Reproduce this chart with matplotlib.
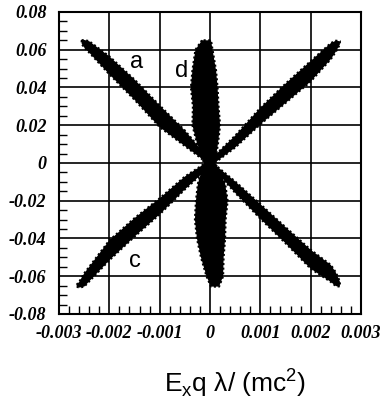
import numpy as np
import matplotlib.pyplot as plt
from matplotlib.ticker import MultipleLocator

plt.rcParams.update({
    'font.family': 'Liberation Sans',
    'mathtext.fontset': 'custom',
    'mathtext.rm': 'Liberation Sans',
})

# Branch "a": falling diagonal, upper/lower edge of the point cloud vs x
band_a_x = [-0.00255, -0.0025, -0.0024, -0.0020, -0.0015, -0.0010, -0.0005, -0.0002, 0.0,
            0.0002, 0.0005, 0.0010, 0.0015, 0.0020, 0.0024, 0.0025, 0.00258]
band_a_top = [0.0650, 0.0652, 0.0645, 0.0565, 0.0442, 0.0305, 0.0172, 0.0078, 0.0015,
              -0.0032, -0.0098, -0.0218, -0.0340, -0.0460, -0.0540, -0.0580, -0.0628]
band_a_bot = [0.0632, 0.0612, 0.0585, 0.0470, 0.0335, 0.0190, 0.0090, 0.0030, -0.0015,
              -0.0068, -0.0158, -0.0295, -0.0425, -0.0560, -0.0630, -0.0652, -0.0655]

# Branch "c": rising diagonal
band_c_x = [-0.00265, -0.0026, -0.0025, -0.0020, -0.0015, -0.0010, -0.0005, 0.0,
            0.0005, 0.0010, 0.0015, 0.0020, 0.0024, 0.0025, 0.00258]
band_c_top = [-0.0645, -0.0630, -0.0585, -0.0410, -0.0292, -0.0187, -0.0072, 0.0015,
              0.0145, 0.0292, 0.0420, 0.0540, 0.0635, 0.0648, 0.0645]
band_c_bot = [-0.0655, -0.0660, -0.0655, -0.0515, -0.0390, -0.0272, -0.0140, -0.0018,
              0.0082, 0.0205, 0.0318, 0.0432, 0.0550, 0.0590, 0.0628]

# Branch "d": nearly vertical, left/right edge vs y
band_d_y = [0.065, 0.060, 0.049, 0.040, 0.030, 0.020, 0.0106, 0.0, -0.0108,
            -0.020, -0.030, -0.040, -0.050, -0.060, -0.0655]
band_d_left = [-0.00016, -0.00029, -0.00035, -0.00038, -0.00034, -0.00035, -0.00026,
               -0.00012, -0.00024, -0.00028, -0.00030, -0.00026, -0.00018, -0.00007, 0.00002]
band_d_right = [0.00002, 0.00005, 0.00012, 0.00015, 0.00017, 0.00020, 0.00016,
                0.00010, 0.00030, 0.00035, 0.00031, 0.00030, 0.00027, 0.00026, 0.00018]

x_ticks = [-0.003, -0.002, -0.001, 0.0, 0.001, 0.002, 0.003]
x_labels = ['-0.003', '-0.002', '-0.001', '0', '0.001', '0.002', '0.003']
y_ticks = [-0.08, -0.06, -0.04, -0.02, 0.0, 0.02, 0.04, 0.06, 0.08]
y_labels = ['-0.08', '-0.06', '-0.04', '-0.02', '0', '0.02', '0.04', '0.06', '0.08']

branch_labels = ['a', 'd', 'c']
branch_label_pos = [(-0.00145, 0.0535), (-0.00056, 0.0488), (-0.00149, -0.0518)]

fig = plt.figure(figsize=(3.82, 4.05), dpi=100)
ax = fig.add_axes([0.1545, 0.2247, 0.7906, 0.7457])


def draw_band(ax, xs, ys):
    # solid core plus a dotted rim so the edge looks like loose points
    ax.fill(xs, ys, color='black', lw=0, zorder=3)
    ax.plot(np.append(xs, xs[0]), np.append(ys, ys[0]), color='black',
            lw=1.5, ls=(0, (1, 1.2)), zorder=3)


def fill_xband(ax, x, top, bot):
    draw_band(ax, np.concatenate([x, x[::-1]]), np.concatenate([top, bot[::-1]]))


def fill_yband(ax, y, left, right):
    draw_band(ax, np.concatenate([left, right[::-1]]), np.concatenate([y, y[::-1]]))


fill_xband(ax, np.array(band_a_x), np.array(band_a_top), np.array(band_a_bot))
fill_xband(ax, np.array(band_c_x), np.array(band_c_top), np.array(band_c_bot))
fill_yband(ax, np.array(band_d_y), np.array(band_d_left), np.array(band_d_right))

for lab, (lx, ly) in zip(branch_labels, branch_label_pos):
    ax.text(lx, ly, lab, fontsize=17, ha='center', va='center', zorder=4)

ax.set_xlim(-0.003, 0.003)
ax.set_ylim(-0.08, 0.08)
ax.set_xticks(x_ticks)
ax.set_xticklabels(x_labels)
ax.set_yticks(y_ticks)
ax.set_yticklabels(y_labels)
ax.xaxis.set_minor_locator(MultipleLocator(0.0002))
ax.yaxis.set_minor_locator(MultipleLocator(0.005))
ax.grid(True, which='major', color='black', lw=1.2)
ax.tick_params(which='major', length=0)
ax.tick_params(axis='y', which='major', pad=9)
ax.tick_params(axis='x', which='major', pad=8)
ax.tick_params(which='minor', direction='in', length=6, width=1)
for sp in ax.spines.values():
    sp.set_linewidth(1.5)

for lab in ax.get_xticklabels() + ax.get_yticklabels():
    lab.set_fontfamily('Liberation Serif')
    lab.set_fontweight('bold')
    lab.set_fontstyle('italic')
    lab.set_fontsize(13)

fig.text(0.616, 0.032, r'E$_\mathregular{x}$q λ/ (mc$^\mathregular{2}$)',
         fontsize=19, ha='center', va='baseline')

fig.savefig('out.png', dpi=100)
